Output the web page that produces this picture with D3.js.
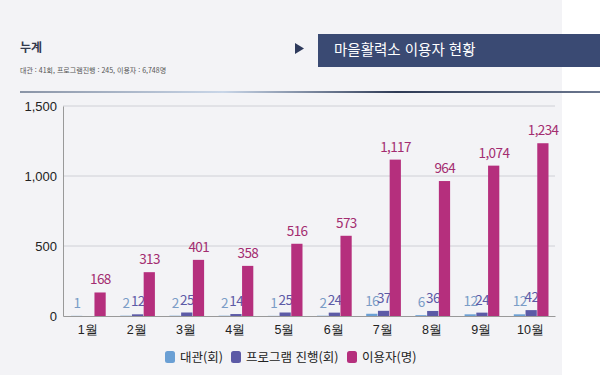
<!DOCTYPE html>
<html lang="ko">
<head>
<meta charset="UTF-8">
<title>마을활력소 이용자 현황</title>
<script src="https://d3js.org/d3.v7.min.js"></script>
<style>
  body { margin: 0; background: #fff; }
  svg { display: block; font-family: "Noto Sans CJK KR", "Noto Sans", sans-serif; }
</style>
</head>
<body>
<svg id="chart" width="600" height="375"></svg>
<script>
// data
const months = ["1월", "2월", "3월", "4월", "5월", "6월", "7월", "8월", "9월", "10월"];
const rental = [1, 2, 2, 2, 1, 2, 16, 6, 12, 12];
const programs = [null, 12, 25, 14, 25, 24, 37, 36, 24, 42];
const visitors = [168, 313, 401, 358, 516, 573, 1117, 964, 1074, 1234];
const seriesNames = ["대관(회)", "프로그램 진행(회)", "이용자(명)"];
const yTicks = [0, 500, 1000, 1500];

const colors = ["#6a9fd4", "#5c5aa6", "#b52f7d"];
const labelColors = ["#7a9cc6", "#5c5aa6", "#a32c70"];

const svg = d3.select("#chart");

// page background
svg.append("rect").attr("width", 562).attr("height", 375).attr("fill", "#f3f3f6");

// header
svg.append("text").attr("x", 20).attr("y", 52)
  .attr("font-size", 12).attr("font-weight", 700).attr("fill", "#333a4d").text("누계");
svg.append("text").attr("x", 20).attr("y", 73)
  .attr("font-size", 7).attr("fill", "#555").text("대관 : 41회, 프로그램진행 : 245, 이용자 : 6,748명");

svg.append("path").attr("d", "M295,43 L304,48.5 L295,54 Z").attr("fill", "#2e3a5c");
svg.append("rect").attr("x", 318).attr("y", 34).attr("width", 282).attr("height", 33).attr("fill", "#3a4a73");
svg.append("text").attr("x", 334).attr("y", 55)
  .attr("font-size", 14.5).attr("fill", "#fff").text("마을활력소 이용자 현황");

const grad = svg.append("defs").append("linearGradient").attr("id", "lineGrad");
grad.append("stop").attr("offset", "0%").attr("stop-color", "#8a94a6");
grad.append("stop").attr("offset", "35%").attr("stop-color", "#c9d6e8");
grad.append("stop").attr("offset", "65%").attr("stop-color", "#2e3a55");
grad.append("stop").attr("offset", "100%").attr("stop-color", "#6c7890");
svg.append("rect").attr("x", 20).attr("y", 91).attr("width", 580).attr("height", 2).attr("fill", "url(#lineGrad)");

// chart
const x = d3.scaleBand().domain(months).range([63, 555]);
const y = d3.scaleLinear().domain([0, 1500]).range([316, 106]);

svg.append("g").selectAll("line").data(yTicks.slice(1)).join("line")
  .attr("x1", 63).attr("x2", 555)
  .attr("y1", d => y(d)).attr("y2", d => y(d))
  .attr("stroke", "#cfd0d6").attr("stroke-width", 1);

const yAxis = svg.append("g").attr("transform", "translate(63,0)")
  .call(d3.axisLeft(y).tickValues(yTicks).tickSize(0).tickPadding(6).tickFormat(d3.format(",")));
yAxis.select(".domain").attr("stroke", "#999");
yAxis.selectAll("text").attr("font-size", 13).attr("fill", "#222").attr("font-family", "inherit");

const xAxis = svg.append("g").attr("transform", "translate(0,316)")
  .call(d3.axisBottom(x).tickSize(0).tickPadding(9));
xAxis.select(".domain").attr("stroke", "#999");
xAxis.selectAll("text").attr("font-size", 12.5).attr("font-weight", 500).attr("fill", "#222").attr("font-family", "inherit");

const inner = d3.scaleBand().domain([0, 1, 2]).range([8, x.bandwidth() - 6]).padding(0);
const series = [rental, programs, visitors];

series.forEach((vals, s) => {
  const g = svg.append("g");
  const pts = months.map((m, i) => ({ m, v: vals[i] })).filter(d => d.v != null);
  g.selectAll("rect").data(pts).join("rect")
    .attr("x", d => x(d.m) + inner(s))
    .attr("width", inner.bandwidth() - 0.5)
    .attr("y", d => y(d.v))
    .attr("height", d => y(0) - y(d.v))
    .attr("fill", colors[s]);
  g.selectAll("text").data(pts).join("text")
    .attr("x", d => x(d.m) + inner(s) + inner.bandwidth() / 2)
    .attr("y", d => y(d.v) - 8)
    .attr("text-anchor", "middle")
    .attr("font-size", 13.5)
    .attr("letter-spacing", -0.6)
    .attr("fill", labelColors[s])
    .text(d => d3.format(",")(d.v));
});

// legend
const legendX = [165, 231, 347];
const lg = svg.append("g").selectAll("g").data(seriesNames).join("g")
  .attr("transform", (d, i) => `translate(${legendX[i]},351)`);
lg.append("rect").attr("width", 10).attr("height", 12).attr("rx", 2.5).attr("fill", (d, i) => colors[i]);
lg.append("text").attr("x", 15).attr("y", 10.5).attr("font-size", 12.5).attr("fill", "#222").text(d => d);
</script>
</body>
</html>
